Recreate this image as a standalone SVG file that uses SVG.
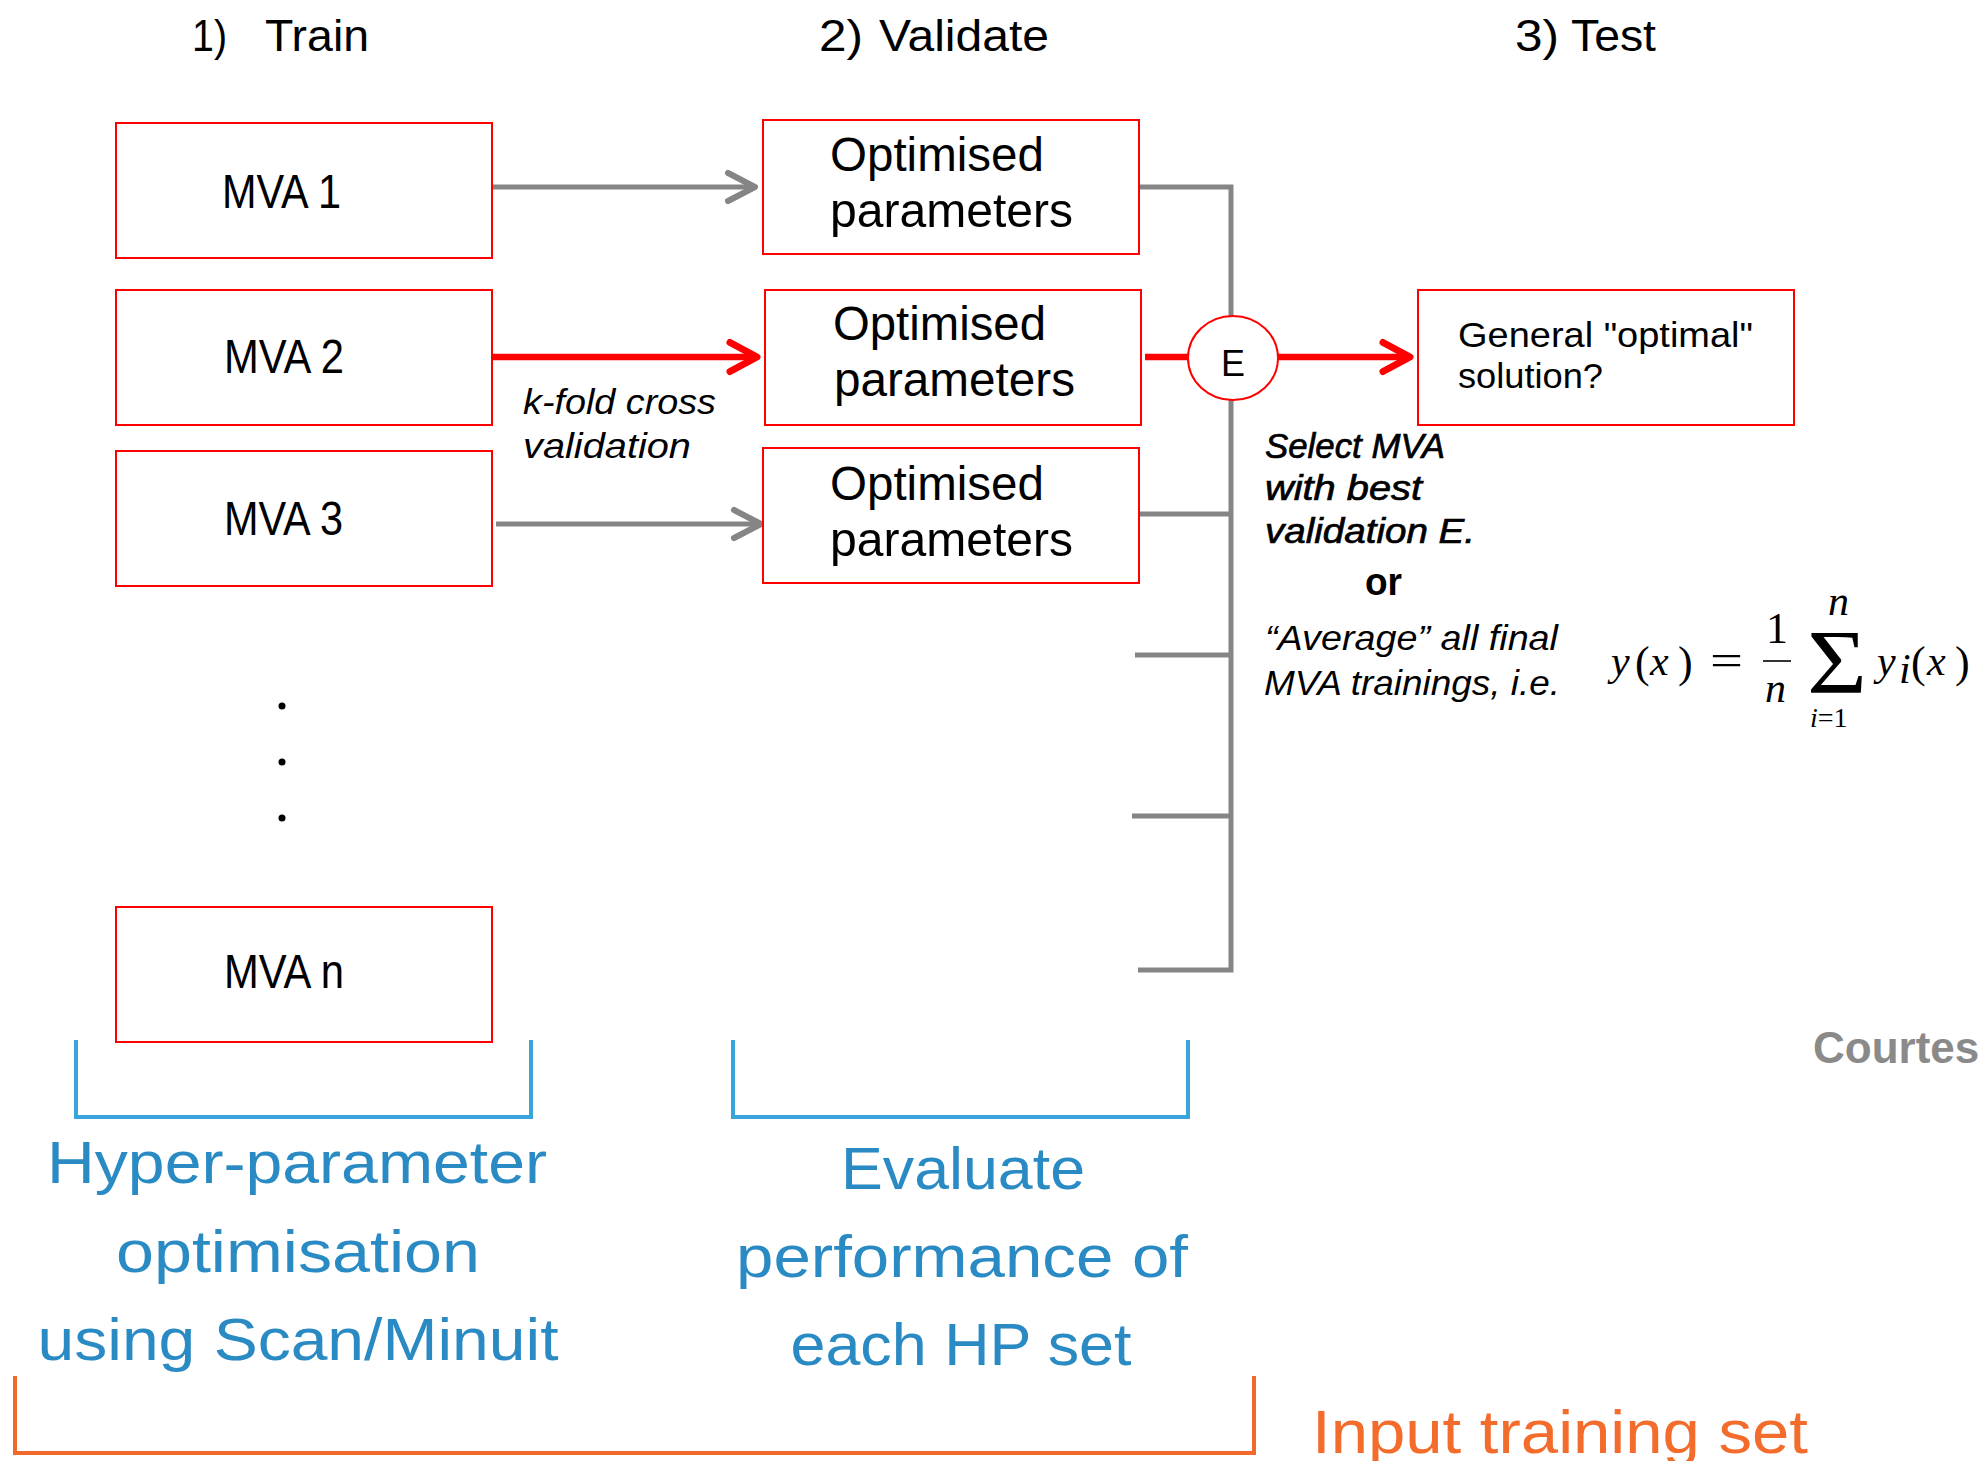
<svg xmlns="http://www.w3.org/2000/svg" width="1982" height="1461" viewBox="0 0 1982 1461">
<style>
  .box { fill: #fff; stroke: #ff0000; stroke-width: 2; }
  .lbl { font-family: "Liberation Sans", Arial, sans-serif; font-size: 48px; fill: #000; }
  .title { font-family: "Liberation Sans", Arial, sans-serif; font-size: 45px; fill: #000; }
  .note { font-family: "Liberation Sans", Arial, sans-serif; font-size: 35px; font-style: italic; fill: #000; }
  .semi { stroke: #000; stroke-width: 0.7px; }
  .blue { font-family: "Liberation Sans", Arial, sans-serif; font-size: 60px; fill: #2a8ac3; }
  .orange { font-family: "Liberation Sans", Arial, sans-serif; font-size: 62px; fill: #f36c2c; }
  .math { font-family: "Liberation Serif", "Times New Roman", serif; font-size: 44px; fill: #000; }
  .mathi { font-family: "Liberation Serif", "Times New Roman", serif; font-size: 42px; font-style: italic; fill: #000; }
  .gray { fill: none; stroke: #858585; stroke-width: 5; }
  .red { fill: none; stroke: #ff0000; stroke-width: 6.5; }
  .blueb { fill: none; stroke: #3aa5dc; stroke-width: 4; }
  .orangeb { fill: none; stroke: #f26a2b; stroke-width: 4; }
</style>
<defs>
  <marker id="ag" markerUnits="userSpaceOnUse" markerWidth="36" markerHeight="34" refX="27" refY="16" orient="auto" overflow="visible">
    <path d="M3,2 L30,16 L3,30" fill="none" stroke="#858585" stroke-width="6" stroke-linecap="round" stroke-linejoin="round"/>
  </marker>
  <marker id="ar" markerUnits="userSpaceOnUse" markerWidth="36" markerHeight="34" refX="27" refY="16" orient="auto" overflow="visible">
    <path d="M3,1.5 L30,16 L3,30.5" fill="none" stroke="#ff0000" stroke-width="7" stroke-linecap="round" stroke-linejoin="round"/>
  </marker>
</defs>
<rect width="1982" height="1461" fill="#fff"/>

<!-- titles -->
<g id="titles">
  <text class="title" x="192" y="51" textLength="35" lengthAdjust="spacingAndGlyphs">1)</text>
  <text class="title" x="265" y="51" textLength="104" lengthAdjust="spacingAndGlyphs">Train</text>
  <text class="title" x="819" y="51" textLength="44" lengthAdjust="spacingAndGlyphs">2)</text>
  <text class="title" x="879" y="51" textLength="170" lengthAdjust="spacingAndGlyphs">Validate</text>
  <text class="title" x="1515" y="51" textLength="44" lengthAdjust="spacingAndGlyphs">3)</text>
  <text class="title" x="1571" y="51" textLength="85" lengthAdjust="spacingAndGlyphs">Test</text>
</g>

<!-- connectors -->
<g id="connectors">
  <path class="gray" d="M491,187 H752" marker-end="url(#ag)"/>
  <path class="red" d="M491,357 H754" marker-end="url(#ar)"/>
  <path class="gray" d="M496,524 H758" marker-end="url(#ag)"/>
  <path class="gray" d="M1139,187 H1231 V316"/>
  <path class="gray" d="M1231,399 V970 H1138"/>
  <path class="gray" d="M1139,514 H1231"/>
  <path class="gray" d="M1135,655 H1231"/>
  <path class="gray" d="M1132,816 H1231"/>
  <path class="red" d="M1145,357 H1188"/>
  <path class="red" d="M1278,357 H1407" marker-end="url(#ar)"/>
</g>

<!-- MVA nodes -->
<g id="mva1">
  <rect class="box" x="116" y="123" width="376" height="135"/>
  <text class="lbl" x="222" y="208" textLength="119" lengthAdjust="spacingAndGlyphs">MVA 1</text>
</g>
<g id="mva2">
  <rect class="box" x="116" y="290" width="376" height="135"/>
  <text class="lbl" x="224" y="373" textLength="120" lengthAdjust="spacingAndGlyphs">MVA 2</text>
</g>
<g id="mva3">
  <rect class="box" x="116" y="451" width="376" height="135"/>
  <text class="lbl" x="224" y="535" textLength="119" lengthAdjust="spacingAndGlyphs">MVA 3</text>
</g>
<g id="dots">
  <circle cx="282" cy="706" r="3.5" fill="#000"/>
  <circle cx="282" cy="762" r="3.5" fill="#000"/>
  <circle cx="282" cy="818" r="3.5" fill="#000"/>
</g>
<g id="mvan">
  <rect class="box" x="116" y="907" width="376" height="135"/>
  <text class="lbl" x="224" y="988" textLength="120" lengthAdjust="spacingAndGlyphs">MVA n</text>
</g>

<!-- kfold label -->
<g id="kfold">
  <text class="note" x="523" y="414" textLength="193" lengthAdjust="spacingAndGlyphs">k-fold cross</text>
  <text class="note" x="523" y="458" textLength="168" lengthAdjust="spacingAndGlyphs">validation</text>
</g>

<!-- Optimised parameter nodes -->
<g id="opt1">
  <rect class="box" x="763" y="120" width="376" height="134"/>
  <text class="lbl" x="830" y="171" textLength="214" lengthAdjust="spacingAndGlyphs">Optimised</text>
  <text class="lbl" x="830" y="227" textLength="243" lengthAdjust="spacingAndGlyphs">parameters</text>
</g>
<g id="opt2">
  <rect class="box" x="765" y="290" width="376" height="135"/>
  <text class="lbl" x="833" y="340" textLength="213" lengthAdjust="spacingAndGlyphs">Optimised</text>
  <text class="lbl" x="834" y="396" textLength="241" lengthAdjust="spacingAndGlyphs">parameters</text>
</g>
<g id="opt3">
  <rect class="box" x="763" y="448" width="376" height="135"/>
  <text class="lbl" x="830" y="500" textLength="214" lengthAdjust="spacingAndGlyphs">Optimised</text>
  <text class="lbl" x="830" y="556" textLength="243" lengthAdjust="spacingAndGlyphs">parameters</text>
</g>

<!-- E node -->
<g id="enode">
  <ellipse cx="1233" cy="358" rx="45" ry="42" fill="#fff" stroke="#ff0000" stroke-width="2"/>
  <text x="1233" y="376" text-anchor="middle" font-family="Liberation Sans, Arial, sans-serif" font-size="36" fill="#000">E</text>
</g>

<!-- General optimal node -->
<g id="general">
  <rect class="box" x="1418" y="290" width="376" height="135"/>
  <text x="1458" y="347" font-family="Liberation Sans, Arial, sans-serif" font-size="35" fill="#000" textLength="295" lengthAdjust="spacingAndGlyphs">General "optimal"</text>
  <text x="1458" y="388" font-family="Liberation Sans, Arial, sans-serif" font-size="35" fill="#000" textLength="145" lengthAdjust="spacingAndGlyphs">solution?</text>
</g>

<!-- select note -->
<g id="select">
  <text class="note semi" x="1265" y="458" textLength="180" lengthAdjust="spacingAndGlyphs">Select MVA</text>
  <text class="note semi" x="1265" y="500" textLength="157" lengthAdjust="spacingAndGlyphs">with best</text>
  <text class="note semi" x="1265" y="543" textLength="210" lengthAdjust="spacingAndGlyphs">validation E.</text>
  <text x="1365" y="595" font-family="Liberation Sans, Arial, sans-serif" font-size="38" font-weight="bold" fill="#000" textLength="37" lengthAdjust="spacingAndGlyphs">or</text>
  <text class="note" x="1265" y="650" fill="#222" textLength="293" lengthAdjust="spacingAndGlyphs">“Average” all final</text>
  <text class="note" x="1264" y="695" fill="#222" textLength="296" lengthAdjust="spacingAndGlyphs">MVA trainings, i.e.</text>
</g>

<!-- formula -->
<g id="formula">
  <text class="mathi" x="1611" y="675">y</text>
  <text class="math" x="1635" y="677">(</text>
  <text class="mathi" x="1650" y="675">x</text>
  <text class="math" x="1678" y="677">)</text>
  <text class="math" x="1710" y="675" textLength="33" lengthAdjust="spacingAndGlyphs">=</text>
  <text class="math" x="1766" y="643" font-size="40">1</text>
  <line x1="1763" y1="661" x2="1791" y2="661" stroke="#000" stroke-width="1.6"/>
  <text class="mathi" x="1765" y="702">n</text>
  <text x="1807" y="693" font-family="Liberation Serif, Times New Roman, serif" font-size="92" fill="#000" textLength="60" lengthAdjust="spacingAndGlyphs">Σ</text>
  <text class="mathi" x="1828" y="615" font-size="28">n</text>
  <text x="1810" y="727" font-family="Liberation Serif, Times New Roman, serif" font-size="28" fill="#000"><tspan font-style="italic">i</tspan>=1</text>
  <text class="mathi" x="1877" y="675">y</text>
  <text class="mathi" x="1899" y="683" font-size="28">i</text>
  <text class="math" x="1911" y="677">(</text>
  <text class="mathi" x="1927" y="675">x</text>
  <text class="math" x="1955" y="677">)</text>
</g>

<!-- courtesy -->
<text x="1813" y="1063" font-family="Liberation Sans, Arial, sans-serif" font-size="44" font-weight="bold" fill="#8a8a8a">Courtes</text>

<!-- brackets -->
<g id="bracket-hp">
  <path class="blueb" d="M76,1040 V1117 H531 V1040"/>
  <text class="blue" x="297" y="1183" text-anchor="middle" textLength="500" lengthAdjust="spacingAndGlyphs">Hyper-parameter</text>
  <text class="blue" x="298" y="1272" text-anchor="middle" textLength="364" lengthAdjust="spacingAndGlyphs">optimisation</text>
  <text class="blue" x="298" y="1360" text-anchor="middle" textLength="521" lengthAdjust="spacingAndGlyphs">using Scan/Minuit</text>
</g>
<g id="bracket-eval">
  <path class="blueb" d="M733,1040 V1117 H1188 V1040"/>
  <text class="blue" x="963" y="1189" text-anchor="middle" textLength="244" lengthAdjust="spacingAndGlyphs">Evaluate</text>
  <text class="blue" x="962" y="1277" text-anchor="middle" textLength="452" lengthAdjust="spacingAndGlyphs">performance of</text>
  <text class="blue" x="961" y="1365" text-anchor="middle" textLength="341" lengthAdjust="spacingAndGlyphs">each HP set</text>
</g>
<g id="bracket-input">
  <path class="orangeb" d="M15,1376 V1453 H1254 V1376"/>
  <text class="orange" x="1312" y="1453" textLength="496" lengthAdjust="spacingAndGlyphs">Input training set</text>
</g>
</svg>
